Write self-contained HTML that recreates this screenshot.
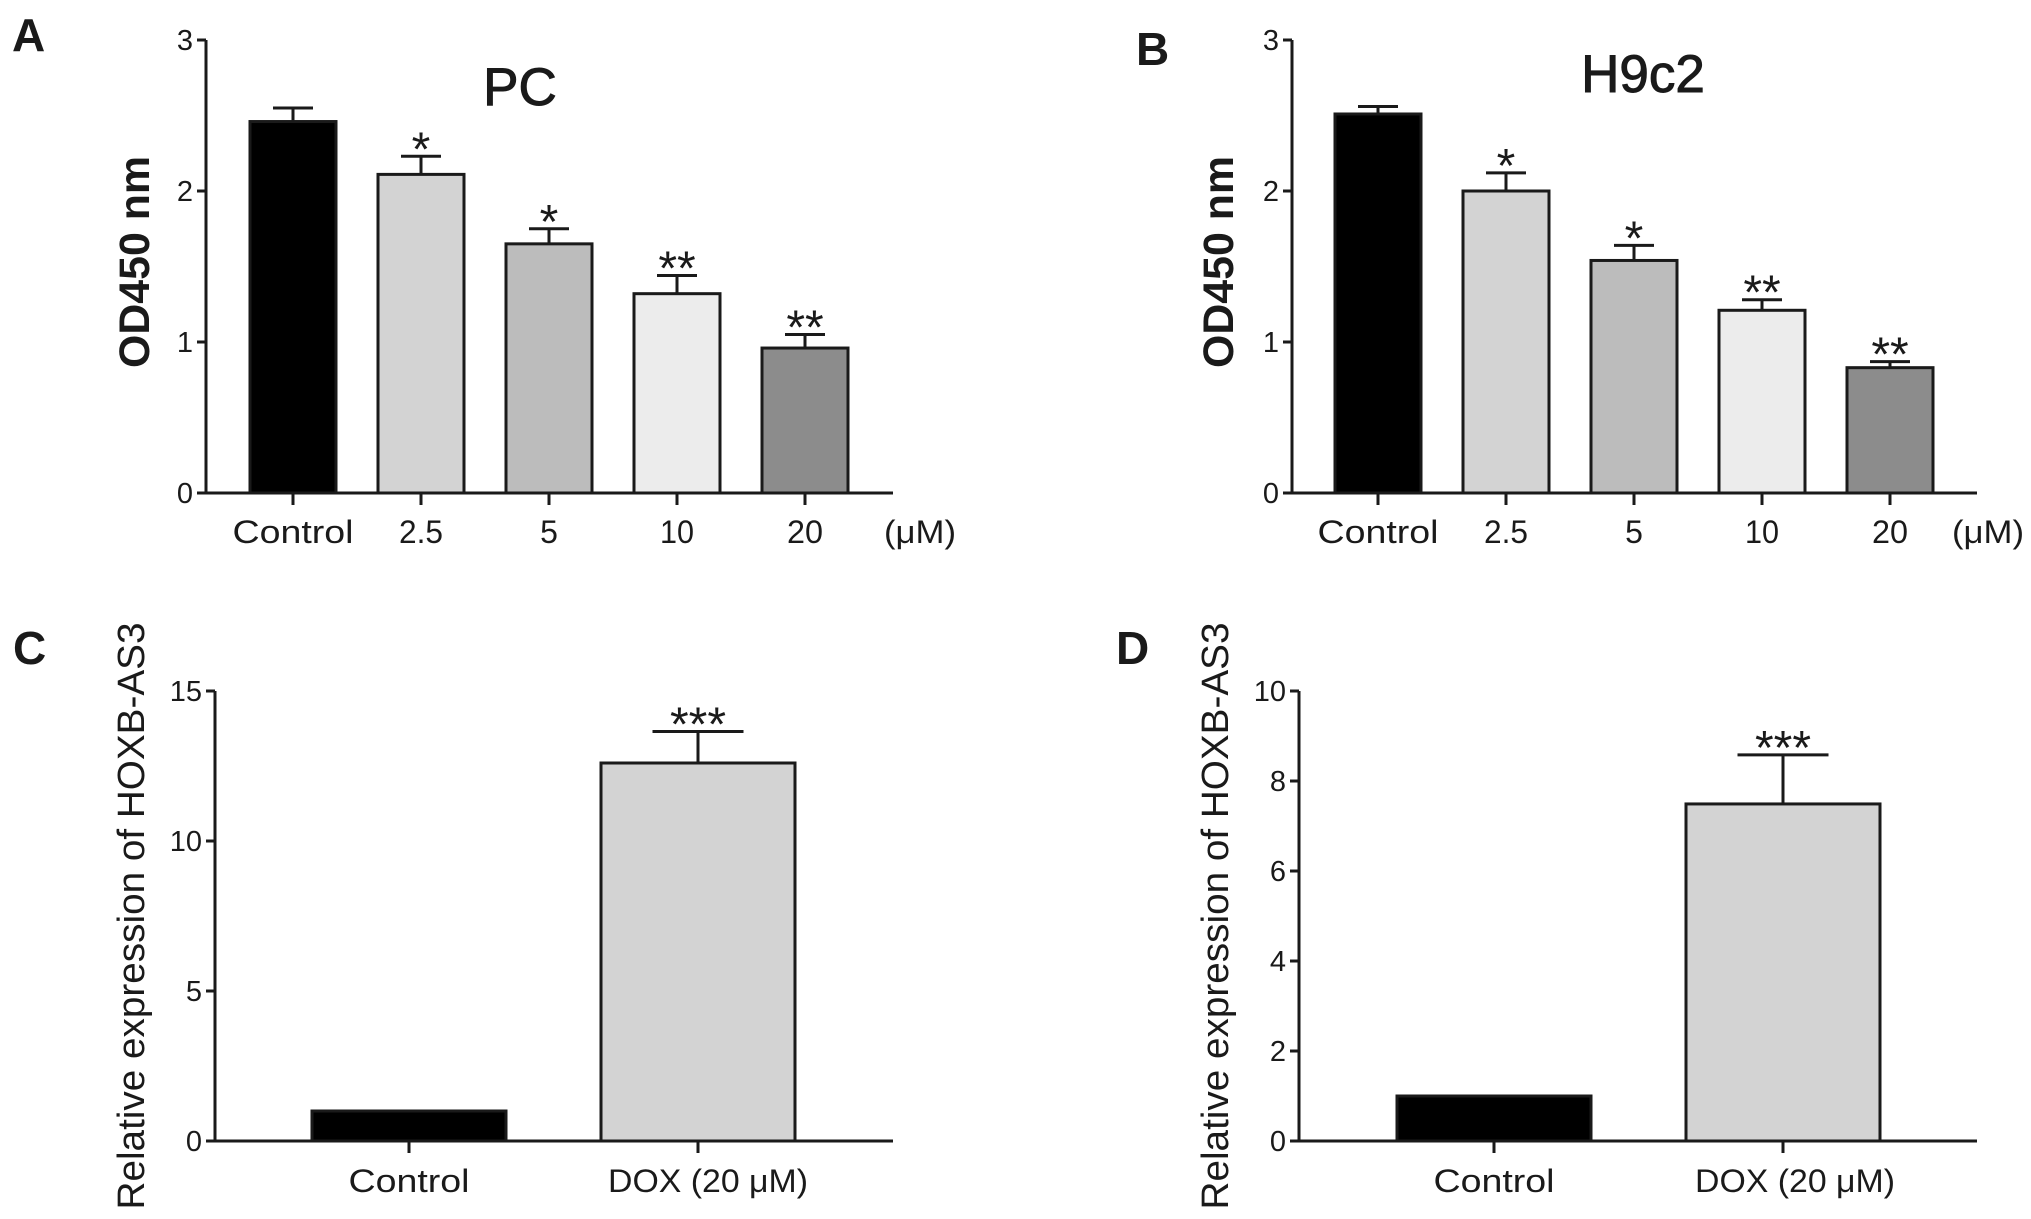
<!DOCTYPE html>
<html><head><meta charset="utf-8"><style>
html,body{margin:0;padding:0;background:#fff;}
svg{display:block;font-family:"Liberation Sans",sans-serif;}
</style></head><body>
<svg id="fig" width="2031" height="1219" viewBox="0 0 2031 1219" xmlns="http://www.w3.org/2000/svg"></svg>
<script>
// Panel A (PC)
const catsAB = ["Control", "2.5", "5", "10", "20"];
const valsA = [2.46, 2.11, 1.65, 1.32, 0.96];
const errA = [2.55, 2.23, 1.75, 1.44, 1.05];
const sigA = ["", "*", "*", "**", "**"];
// Panel B (H9c2)
const valsB = [2.51, 2.00, 1.54, 1.21, 0.83];
const errB = [2.56, 2.12, 1.64, 1.28, 0.87];
const sigB = ["", "*", "*", "**", "**"];
const ticksAB = [0, 1, 2, 3];
const colorsAB = ["#000000", "#d3d3d3", "#bcbcbc", "#ececec", "#8c8c8c"];
// Panel C / D
const catsCD = ["Control", "DOX (20 \u03bcM)"];
const valsC = [1.0, 12.6];
const errC = [1.0, 13.65];
const sigC = ["", "***"];
const ticksC = [0, 5, 10, 15];
const valsD = [1.0, 7.49];
const errD = [1.0, 8.58];
const sigD = ["", "***"];
const ticksD = [0, 2, 4, 6, 8, 10];
const colorsCD = ["#000000", "#d3d3d3"];

const NS = "http://www.w3.org/2000/svg";
const svg = document.getElementById("fig");
function mk(tag, attrs, parent, text) {
  const e = document.createElementNS(NS, tag);
  for (const k in attrs) e.setAttribute(k, attrs[k]);
  if (text !== undefined) e.textContent = text;
  (parent || svg).appendChild(e);
  return e;
}

function panel(p) {
  const g = mk("g", {});
  
  
  const y = v => p.y0 - (v / p.ymax) * (p.y0 - p.yTop);
  const x = i => p.x0 + i * p.step;
  const L = mk("text", {x: p.letterX, y: p.letterY, "font-size": 46, "font-weight": "bold", fill: "#1a1a1a"}, g, p.letter);
  
  
  if (p.title) {
    const t = mk("text", {x: p.titleX, y: p.titleY, "font-size": 53, "text-anchor": "middle", fill: "#1a1a1a", stroke: "#1a1a1a", "stroke-width": 1}, g, p.title);
    
    
  }
  const yl = mk("text", {x: 0, y: 0, "font-size": p.ylSize, "font-weight": p.ylWeight, "text-anchor": "middle",
    fill: "#1a1a1a", textLength: p.ylLen, lengthAdjust: "spacingAndGlyphs",
    transform: "translate(" + p.ylX + "," + p.ylY + ") rotate(-90)"}, g, p.ylabel);
  
  
  p.vals.forEach((v, i) => {
    const cx = x(i);
    const r = mk("rect", {x: cx - p.bw / 2, y: y(v), width: p.bw, height: p.y0 - y(v), fill: p.colors[i], stroke: "#1a1a1a", "stroke-width": 3}, g);
    
    
    if (p.errs[i] > v) {
      const e = mk("path", {d: "M" + cx + "," + y(v) + "V" + y(p.errs[i]) + "M" + (cx - p.cap / 2) + "," + y(p.errs[i]) + "H" + (cx + p.cap / 2),
        stroke: "#1a1a1a", "stroke-width": 3, fill: "none"}, g);
      
      
    }
    if (p.sig[i]) {
      const s = mk("text", {x: cx, y: y(p.errs[i]) + 9, "font-size": 48, "text-anchor": "middle", fill: "#1a1a1a"}, g, p.sig[i]);
      
      
    }
    const tk = mk("line", {x1: cx, x2: cx, y1: p.y0, y2: p.y0 + 12, stroke: "#1a1a1a", "stroke-width": 3}, g);
    
    
    const la = {x: cx + (p.labShift ? p.labShift[i] : 0), y: p.labY, "font-size": 32, "text-anchor": "middle", fill: "#1a1a1a"};
    if (p.labLen && p.labLen[i]) { la.textLength = p.labLen[i]; la.lengthAdjust = "spacingAndGlyphs"; }
    const lt = mk("text", la, g, p.cats[i]);
    
    
  });
  const ax = mk("path", {d: "M" + p.axX + "," + (p.yTop) + "V" + p.y0 + "H" + p.xEnd, stroke: "#1a1a1a", "stroke-width": 3, fill: "none"}, g);
  
  
  p.ticks.forEach(t => {
    const tl = mk("line", {x1: p.axX - 9, x2: p.axX, y1: y(t), y2: y(t), stroke: "#1a1a1a", "stroke-width": 3}, g);
    
    
    const tt = mk("text", {x: p.axX - 13, y: y(t) + 10, "font-size": 29, "text-anchor": "end", fill: "#1a1a1a"}, g, String(t));
    
    
  });
  if (p.unitX) {
    const u = mk("text", {x: p.unitX, y: p.labY, "font-size": 32, fill: "#1a1a1a", textLength: 72, lengthAdjust: "spacingAndGlyphs"}, g, "(\u03bcM)");
    
    
  }
}

const labAB = [121, 44, 0, 34, 36];
panel({name: "panel-a-pc", letter: "A", letterX: 12, letterY: 51, title: "PC", titleX: 520, titleY: 105,
  ylabel: "OD450 nm", ylSize: 43, ylWeight: "bold", ylLen: 212, ylX: 149, ylY: 262,
  cats: catsAB, vals: valsA, errs: errA, sig: sigA, colors: colorsAB, ticks: ticksAB, ymax: 3,
  x0: 293, step: 128, bw: 86, cap: 40, axX: 206, y0: 493, yTop: 40, xEnd: 893, labY: 543, labLen: labAB, unitX: 884});
panel({name: "panel-b-h9c2", letter: "B", letterX: 1136, letterY: 65, title: "H9c2", titleX: 1643, titleY: 92,
  ylabel: "OD450 nm", ylSize: 43, ylWeight: "bold", ylLen: 212, ylX: 1233, ylY: 262,
  cats: catsAB, vals: valsB, errs: errB, sig: sigB, colors: colorsAB, ticks: ticksAB, ymax: 3,
  x0: 1378, step: 128, bw: 86, cap: 40, axX: 1292, y0: 493, yTop: 40, xEnd: 1977, labY: 543, labLen: labAB, unitX: 1952});
panel({name: "panel-c", letter: "C", letterX: 13, letterY: 664,
  ylabel: "Relative expression of HOXB-AS3", ylSize: 38, ylWeight: "normal", ylLen: 587, ylX: 144, ylY: 916,
  cats: catsCD, vals: valsC, errs: errC, sig: sigC, colors: colorsCD, ticks: ticksC, ymax: 15,
  x0: 409, step: 289, bw: 194, cap: 91, axX: 215, y0: 1141, yTop: 691, xEnd: 893, labY: 1192, labLen: [121, 200], labShift: [0, 10]});
panel({name: "panel-d", letter: "D", letterX: 1116, letterY: 664,
  ylabel: "Relative expression of HOXB-AS3", ylSize: 38, ylWeight: "normal", ylLen: 587, ylX: 1228, ylY: 916,
  cats: catsCD, vals: valsD, errs: errD, sig: sigD, colors: colorsCD, ticks: ticksD, ymax: 10,
  x0: 1494, step: 289, bw: 194, cap: 91, axX: 1299, y0: 1141, yTop: 691, xEnd: 1977, labY: 1192, labLen: [121, 200], labShift: [0, 12]});
</script>
</body></html>
